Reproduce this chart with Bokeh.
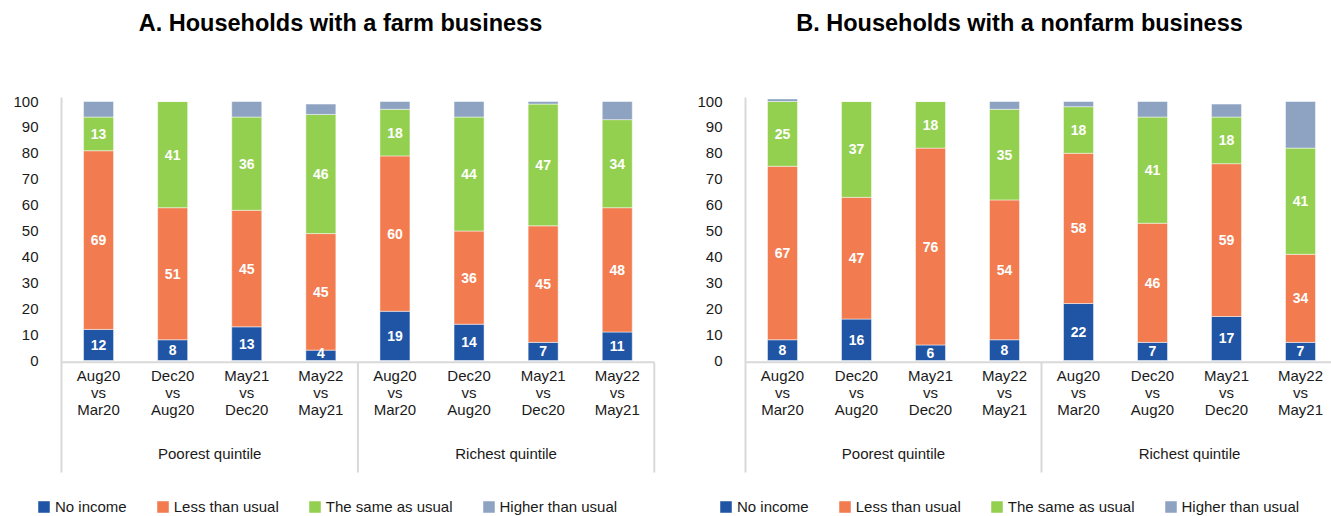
import numpy as np
from bokeh.plotting import figure
from bokeh.models import ColumnDataSource, Legend, LegendItem, Range1d
from bokeh.layouts import row
from bokeh.embed import file_html
from bokeh.resources import INLINE
from bokeh.core.properties import value

# ---------------- data ----------------
periods = ["Aug20\nvs\nMar20", "Dec20\nvs\nAug20", "May21\nvs\nDec20", "May22\nvs\nMay21"]
groups = ["Poorest quintile", "Richest quintile"]
series = ["No income", "Less than usual", "The same as usual", "Higher than usual"]
y_ticks = [0, 10, 20, 30, 40, 50, 60, 70, 80, 90, 100]

farm_title = "A. Households with a farm business"
farm_no_income = [12, 8, 13, 4, 19, 14, 7, 11]
farm_less = [69, 51, 45, 45, 60, 36, 45, 48]
farm_same = [13, 41, 36, 46, 18, 44, 47, 34]
farm_higher = [6, 0, 6, 4, 3, 6, 1, 7]

nonfarm_title = "B. Households with a nonfarm business"
nonfarm_no_income = [8, 16, 6, 8, 22, 7, 17, 7]
nonfarm_less = [67, 47, 76, 54, 58, 46, 59, 34]
nonfarm_same = [25, 37, 18, 35, 18, 41, 18, 41]
nonfarm_higher = [1, 0, 0, 3, 2, 6, 5, 18]

colors = ["#1F55A4", "#F27C50", "#94D050", "#8EA3C2"]
FONT = "Liberation Sans"
AX = "#d9d9d9"
TXT = "#1a1a1a"

S = 2.59  # px per unit (vertical)
Y0 = 360  # px of value 0
H = 516


def build(title, cols, width, axis_px, xscale, title_px, legend_px):
    cats = [p for g in groups for p in periods]
    n = len(cats)
    xs = [i + 0.5 for i in range(n)]
    src = ColumnDataSource(dict(x=xs, a=cols[0], b=cols[1], c=cols[2], d=cols[3]))
    x_start = -axis_px / xscale
    x_end = (width - axis_px) / xscale
    p = figure(width=width, height=H, output_backend="svg", toolbar_location=None,
               x_range=Range1d(x_start, x_end),
               y_range=Range1d(-(H - Y0) / S, Y0 / S),
               min_border=0, x_axis_location=None, y_axis_location=None)
    p.outline_line_color = None
    p.grid.visible = False

    rs = p.vbar_stack(["a", "b", "c", "d"], x="x", width=0.405, source=src,
                      color=colors, line_color="white", line_width=0.8, line_alpha=0.6)

    # axis lines
    top = (Y0 - 97) / S
    bot = (Y0 - 472) / S
    base = -0.7
    p.segment(x0=[0], y0=[bot], x1=[0], y1=[top], line_color=AX, line_width=2)
    p.segment(x0=[0], y0=[base], x1=[n], y1=[base], line_color=AX, line_width=2)
    p.segment(x0=[4, 8], y0=[base, base], x1=[4, 8], y1=[bot, bot], line_color=AX, line_width=2)

    # y tick labels
    p.text(x=[-23 / xscale] * len(y_ticks), y=y_ticks, text=[str(t) for t in y_ticks],
           text_font=value(FONT), text_font_size="15px", text_color=TXT,
           text_align="right", text_baseline="middle")

    # value labels
    lx, ly, lt = [], [], []
    for i in range(n):
        cum = 0
        for k in range(3):
            v = cols[k][i]
            lx.append(xs[i]); ly.append(cum + max(v, 5.5) / 2); lt.append(str(v))
            cum += v
    p.text(x=lx, y=ly, text=lt, text_font=value(FONT), text_font_size="14px",
           text_font_style="bold", text_color="white", text_align="center",
           text_baseline="middle")

    # category labels
    p.text(x=xs, y=[(Y0 - 392) / S] * n, text=cats, text_font=value(FONT),
           text_font_size="15px", text_color=TXT, text_align="center",
           text_baseline="middle", text_line_height=1.0)
    # group labels
    p.text(x=[2, 6], y=[(Y0 - 453) / S] * 2, text=groups, text_font=value(FONT),
           text_font_size="15px", text_color=TXT, text_align="center",
           text_baseline="middle")
    # title
    p.text(x=[(title_px - axis_px) / xscale], y=[(Y0 - 22) / S], text=[title],
           text_font=value(FONT), text_font_size="23.5px", text_font_style="bold",
           text_color="#000000", text_align="center", text_baseline="middle")

    leg = Legend(items=[LegendItem(label=s, renderers=[r]) for s, r in zip(series, rs)],
                 location=(legend_px, 1), orientation="horizontal",
                 glyph_width=15, glyph_height=15, label_height=15, label_width=10,
                 label_standoff=4, spacing=28, padding=0, margin=0,
                 border_line_color=None, background_fill_alpha=0,
                 label_text_font=FONT, label_text_font_size="15px",
                 label_text_color=TXT)
    p.add_layout(leg)
    return p


p1 = build(farm_title, [farm_no_income, farm_less, farm_same, farm_higher],
           680, 61, 74.1, 340, 36)
p2 = build(nonfarm_title, [nonfarm_no_income, nonfarm_less, nonfarm_same, nonfarm_higher],
           651, 65, 74.0, 1019 - 680, 38)

layout = row(p1, p2, spacing=0)
open("out.html", "w").write(file_html(layout, INLINE))
